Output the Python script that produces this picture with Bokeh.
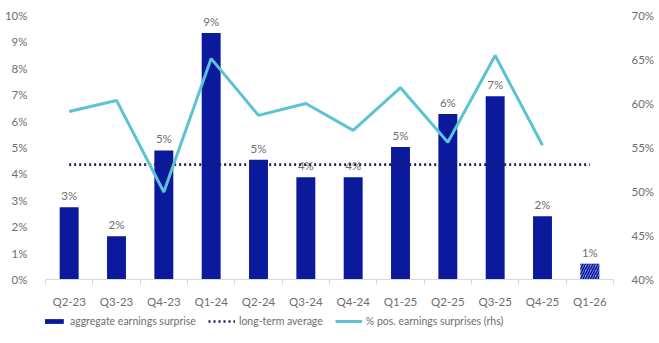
from bokeh.plotting import figure
from bokeh.layouts import column
from bokeh.models import (ColumnDataSource, Range1d, LinearAxis, FixedTicker,
                          Legend, LegendItem)
from bokeh.embed import file_html
from bokeh.resources import INLINE

# Quarterly data
quarters = ["Q2-23", "Q3-23", "Q4-23", "Q1-24", "Q2-24", "Q3-24",
            "Q4-24", "Q1-25", "Q2-25", "Q3-25", "Q4-25", "Q1-26"]
earnings_surprise = [2.74, 1.64, 4.89, 9.34, 4.54, 3.87,
                     3.87, 5.02, 6.27, 6.94, 2.40, 0.60]   # %
surprise_labels = ["3%", "2%", "5%", "9%", "5%", "4%",
                   "4%", "5%", "6%", "7%", "2%", "1%"]
pos_surprises = [59.1, 60.35, 49.95, 65.1, 58.65, 60.0,
                 56.95, 61.8, 55.6, 65.45, 55.25]           # % (rhs)
long_term_avg = 4.35                                        # %

FONT = "Lato"
GREY = "#6e6e6e"
BAR = "#0b1a9c"
LINE = "#5cc3d4"
DOT = "#1b1f5c"
FS = "11.5px"

n = len(quarters)
xc = [i + 0.5 for i in range(n)]

p = figure(frame_width=568, frame_height=264, output_backend="svg", toolbar_location=None,
           x_range=Range1d(0, n), y_range=Range1d(0, 10),
           min_border_left=45, min_border_right=46, min_border_top=15,
           min_border_bottom=0, outline_line_color=None)
p.xgrid.grid_line_color = None
p.ygrid.grid_line_color = None
p.extra_y_ranges = {"rhs": Range1d(40, 70)}

# Bars: reported quarters and the current (estimated) quarter
actual = ColumnDataSource(dict(x=xc[:-1], top=earnings_surprise[:-1]))
p.vbar(x="x", top="top", width=0.4, source=actual,
       fill_color=BAR, line_color=None)
p.vbar(x=[xc[-1]], top=[earnings_surprise[-1]], width=0.4,
       fill_color="#8c96e6", line_color=None,
       hatch_pattern="/", hatch_color=BAR, hatch_scale=5, hatch_weight=1.6)

# Value labels above bars
lab = ColumnDataSource(dict(x=xc, y=earnings_surprise, t=surprise_labels))
p.text(x="x", y="y", text="t", source=lab, y_offset=-5,
       text_align="center", text_baseline="bottom",
       text_font_size=FS, text_color=GREY, text_font={"value": FONT})

# Long-term average
p.line(x=[xc[0], xc[-1]], y=[long_term_avg, long_term_avg],
       line_color=DOT, line_width=2.6, line_dash="2 3")

# Share of positive surprises on the right axis
p.line(x=xc[:len(pos_surprises)], y=pos_surprises, y_range_name="rhs",
       line_color=LINE, line_width=3)

# Axes
p.yaxis.ticker = FixedTicker(ticks=list(range(0, 11)))
p.yaxis.major_label_overrides = {i: f"{i}%" for i in range(0, 11)}
rhs = LinearAxis(y_range_name="rhs", ticker=FixedTicker(ticks=[40, 45, 50, 55, 60, 65, 70]))
rhs.major_label_overrides = {v: f"{v}%" for v in range(40, 75, 5)}
p.add_layout(rhs, "right")
for ax in (p.yaxis[0], rhs):
    ax.axis_line_color = None
    ax.major_tick_line_color = None
    ax.minor_tick_line_color = None
    ax.major_label_standoff = 12
    ax.major_label_text_font = FONT
    ax.major_label_text_font_size = FS
    ax.major_label_text_color = GREY

xa = p.xaxis[0]
xa.ticker = FixedTicker(ticks=xc, minor_ticks=list(range(0, n + 1)))
xa.major_label_overrides = {x: q for x, q in zip(xc, quarters)}
xa.axis_line_color = "#d9d9d9"
xa.major_tick_line_color = None
xa.minor_tick_line_color = "#d9d9d9"
xa.minor_tick_out = 5
xa.minor_tick_in = 0
xa.major_label_standoff = 9
xa.major_label_text_font = FONT
xa.major_label_text_font_size = FS
xa.major_label_text_color = GREY

# Legend strip below the chart; swatch renderers sit outside its visible range
lg = figure(width=659, height=30, output_backend="svg", toolbar_location=None,
            x_range=Range1d(0, 1), y_range=Range1d(0, 1),
            x_axis_location=None, y_axis_location=None,
            min_border=0, outline_line_color=None)
lg.xgrid.grid_line_color = None
lg.ygrid.grid_line_color = None
sw_bar = lg.vbar(x=[5], top=[5], bottom=[4], width=0.4, fill_color=BAR, line_color=None)
sw_avg = lg.line(x=[5, 6], y=[5, 5], line_color=DOT, line_width=2.6, line_dash="2 3")
sw_pos = lg.line(x=[5, 6], y=[5, 5], line_color=LINE, line_width=3)
legend = Legend(items=[
    LegendItem(label="aggregate earnings surprise", renderers=[sw_bar]),
    LegendItem(label="long-term average", renderers=[sw_avg]),
    LegendItem(label="% pos. earnings surprises (rhs)", renderers=[sw_pos]),
], orientation="horizontal", location=(-6, 12),
    label_text_font=FONT, label_text_font_size="10.5px", label_text_color=GREY,
    glyph_width=27, glyph_height=6, label_height=14, label_standoff=4, spacing=12,
    border_line_color=None, background_fill_alpha=0, margin=0, padding=0)
lg.add_layout(legend, "center")

open("out.html", "w").write(file_html(column(p, lg, spacing=0), INLINE))
